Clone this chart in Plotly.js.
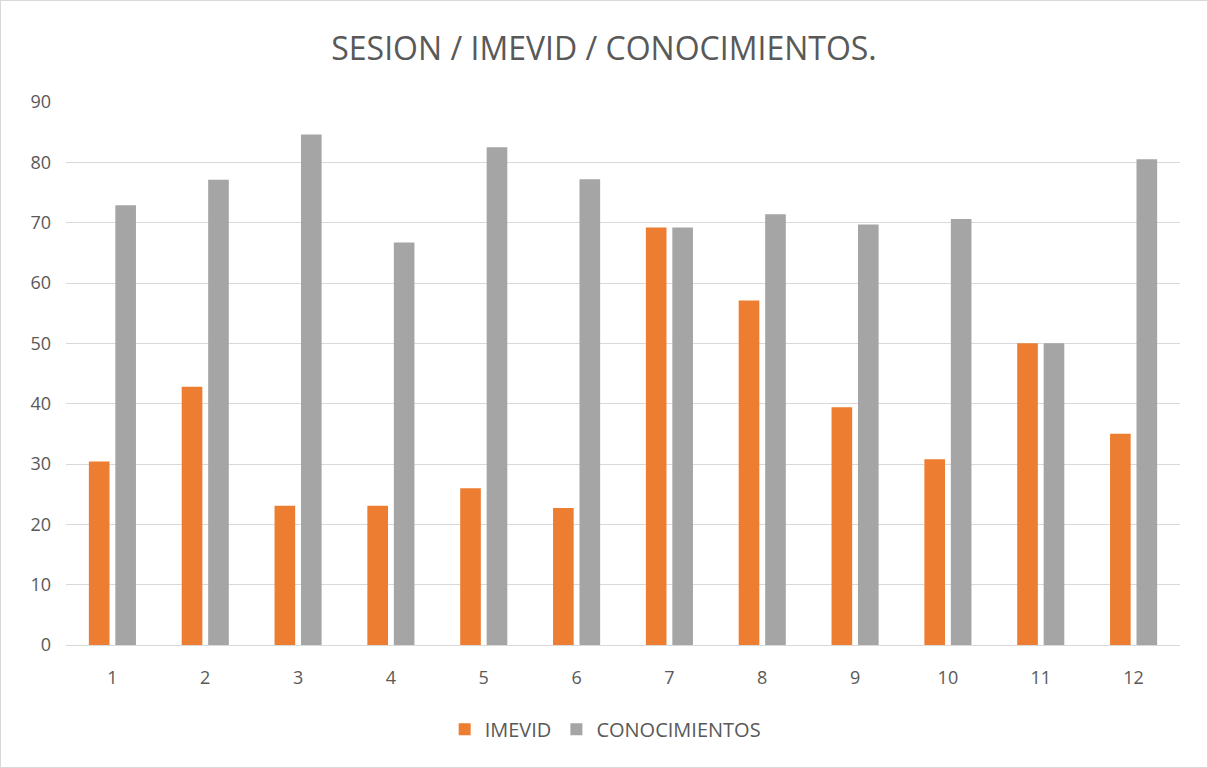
<!DOCTYPE html>
<html>
<head>
<meta charset="utf-8">
<script src="https://cdn.plot.ly/plotly-3.0.1.min.js"></script>
<style>
html,body{margin:0;padding:0;background:#fff;}
#wrap{width:1206px;height:766px;border:1px solid #d9d9d9;}
#chart{width:1206px;height:766px;}
</style>
</head>
<body>
<div id="wrap"><div id="chart"></div></div>
<script>
const sessions = ['1','2','3','4','5','6','7','8','9','10','11','12'];
const imevid = [30.4, 42.8, 23.1, 23.1, 26.0, 22.7, 69.2, 57.1, 39.4, 30.8, 50.0, 35.0];
const conocimientos = [72.9, 77.1, 84.6, 66.7, 82.5, 77.2, 69.2, 71.4, 69.7, 70.6, 50.0, 80.5];
const yTicks = [0,10,20,30,40,50,60,70,80,90];

const font = 'Open Sans, Liberation Sans, sans-serif';
const traces = [
  {type:'bar', name:'IMEVID', x:sessions, y:imevid, marker:{color:'#ED7D31'}, hoverinfo:'y'},
  {type:'bar', name:'CONOCIMIENTOS', x:sessions, y:conocimientos, marker:{color:'#A5A5A5'}, hoverinfo:'y'}
];
const layout = {
  width:1206, height:766,
  paper_bgcolor:'#fff', plot_bgcolor:'#fff',
  margin:{l:65, r:27, t:101, b:122},
  title:{text:'SESION / IMEVID / CONOCIMIENTOS.', x:0.5, xanchor:'center', y:0.938, yanchor:'middle',
         font:{family:font, size:32, color:'#595959'}},
  barmode:'group', bargap:0.43, bargroupgap:0.22,
  xaxis:{type:'category', showgrid:false, showline:true, linecolor:'#d9d9d9', linewidth:1,
         ticks:'', tickfont:{family:font, size:18, color:'#595959'}, ticklabelstandoff:16},
  yaxis:{range:[0,90], tickvals:yTicks, showgrid:true, gridcolor:'#d9d9d9', gridwidth:1,
         zeroline:false, showline:false, ticks:'',
         tickfont:{family:font, size:18, color:'#595959'}, ticklabelstandoff:14},
  legend:{orientation:'h', x:0.484, xanchor:'center', y:-0.155, yanchor:'middle',
          font:{family:font, size:20, color:'#595959'}, itemwidth:30, traceorder:'normal'},
  showlegend:true
};
Plotly.newPlot('chart', traces, layout, {displayModeBar:false, staticPlot:true});
</script>
</body>
</html>
